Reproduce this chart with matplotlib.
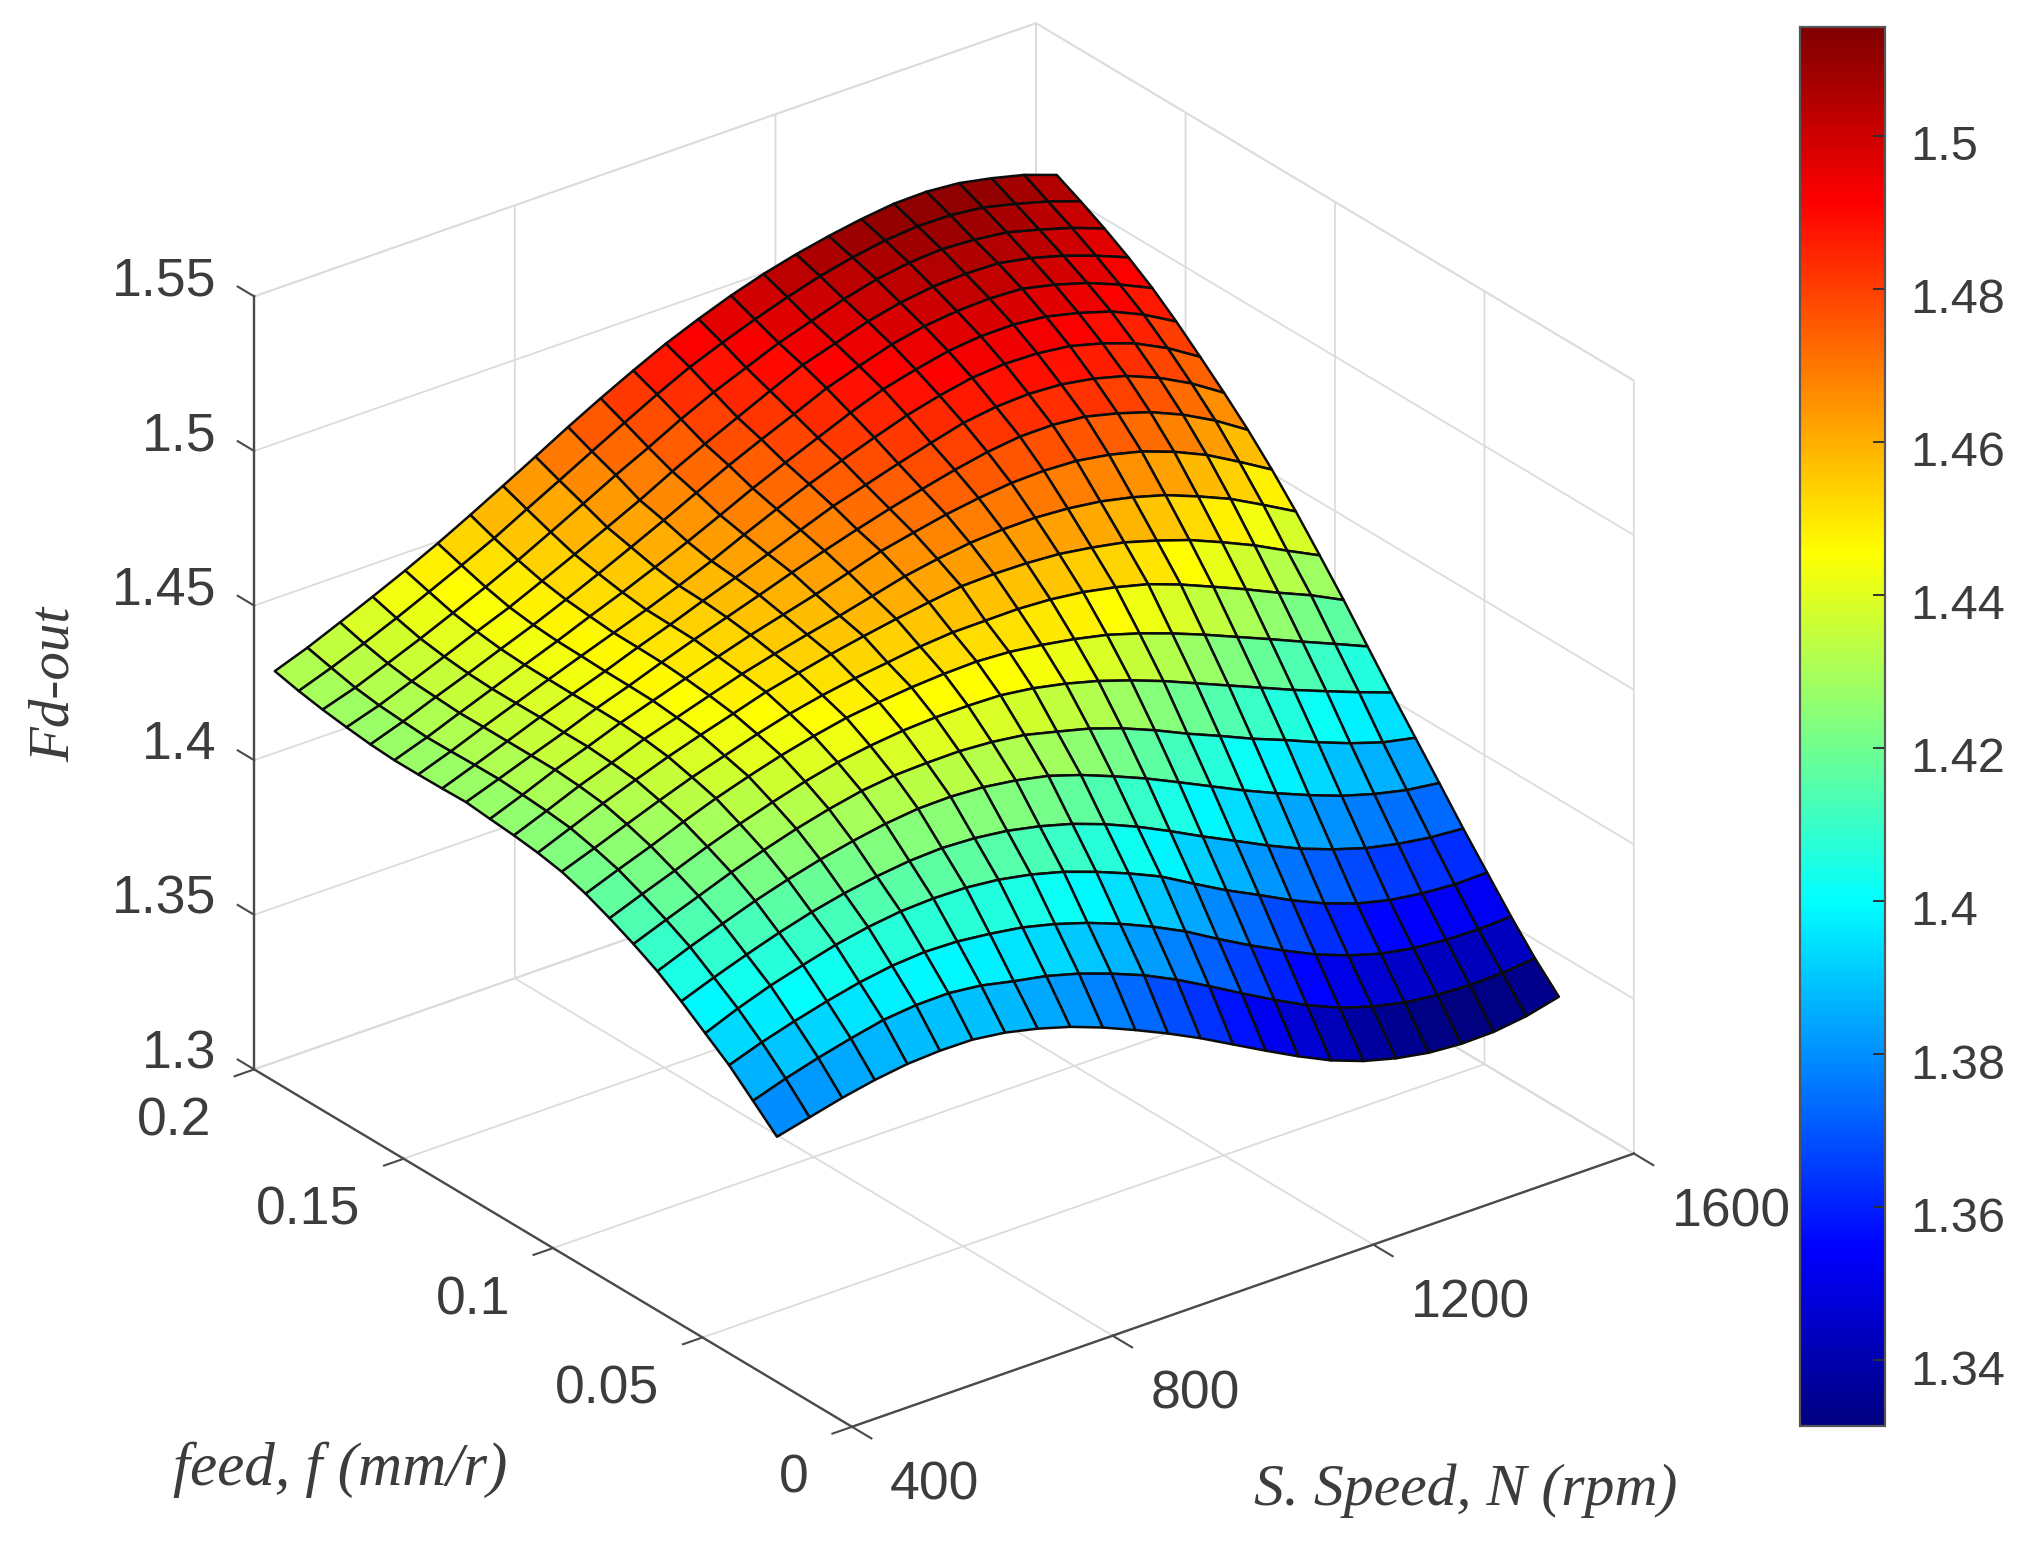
import matplotlib

matplotlib.use("Agg")
import matplotlib.pyplot as plt
import numpy as np
from matplotlib.cm import ScalarMappable
from matplotlib.colors import LinearSegmentedColormap, Normalize
from matplotlib.ticker import NullFormatter
from matplotlib.transforms import ScaledTranslation
from mpl_toolkits.mplot3d import proj3d

plt.rcParams["font.family"] = ["Liberation Sans", "DejaVu Sans"]

speed = [400, 450, 500, 550, 600, 650, 700, 750, 800, 850, 900, 950, 1000,
         1050, 1100, 1150, 1200, 1250, 1300, 1350, 1400, 1450, 1500, 1550, 1600]
feed = [0.0251, 0.0331, 0.0411, 0.0491, 0.0571, 0.0651, 0.0731, 0.0811, 0.0891, 0.0971, 0.1051,
        0.1131, 0.1211, 0.1291, 0.1371, 0.1451, 0.1531, 0.1611, 0.1691, 0.1771, 0.1851, 0.1931]

# one row per feed value, one column per speed value
fd_out = [
    [1.3793, 1.3819, 1.3845, 1.3866, 1.3881, 1.3887, 1.3886, 1.3872, 1.3848, 1.3817, 1.3778, 1.3733, 1.3685, 1.3633, 1.3576, 1.3519, 1.3464, 1.3414, 1.3375, 1.3347, 1.3328, 1.3320, 1.3322, 1.3336, 1.3362],
    [1.3863, 1.3898, 1.3928, 1.3954, 1.3977, 1.3988, 1.3990, 1.3978, 1.3955, 1.3935, 1.3906, 1.3869, 1.3827, 1.3776, 1.3718, 1.3658, 1.3600, 1.3546, 1.3501, 1.3468, 1.3444, 1.3432, 1.3427, 1.3429, 1.3440],
    [1.3932, 1.3969, 1.4000, 1.4028, 1.4052, 1.4069, 1.4077, 1.4074, 1.4062, 1.4046, 1.4020, 1.3987, 1.3947, 1.3901, 1.3849, 1.3788, 1.3730, 1.3677, 1.3627, 1.3587, 1.3556, 1.3537, 1.3527, 1.3524, 1.3529],
    [1.3989, 1.4032, 1.4069, 1.4099, 1.4127, 1.4148, 1.4162, 1.4167, 1.4165, 1.4154, 1.4134, 1.4106, 1.4069, 1.4027, 1.3980, 1.3920, 1.3862, 1.3810, 1.3756, 1.3709, 1.3672, 1.3646, 1.3631, 1.3623, 1.3625],
    [1.4046, 1.4086, 1.4123, 1.4157, 1.4187, 1.4211, 1.4229, 1.4242, 1.4247, 1.4242, 1.4229, 1.4207, 1.4178, 1.4140, 1.4095, 1.4044, 1.3990, 1.3939, 1.3887, 1.3840, 1.3801, 1.3768, 1.3745, 1.3729, 1.3721],
    [1.4097, 1.4139, 1.4177, 1.4214, 1.4246, 1.4274, 1.4297, 1.4316, 1.4328, 1.4330, 1.4324, 1.4309, 1.4287, 1.4253, 1.4212, 1.4168, 1.4119, 1.4069, 1.4019, 1.3973, 1.3930, 1.3891, 1.3860, 1.3836, 1.3822],
    [1.4139, 1.4180, 1.4220, 1.4260, 1.4295, 1.4327, 1.4354, 1.4376, 1.4389, 1.4393, 1.4394, 1.4387, 1.4373, 1.4347, 1.4320, 1.4284, 1.4241, 1.4193, 1.4149, 1.4103, 1.4062, 1.4018, 1.3978, 1.3944, 1.3922],
    [1.4176, 1.4217, 1.4256, 1.4297, 1.4334, 1.4367, 1.4397, 1.4422, 1.4439, 1.4451, 1.4457, 1.4458, 1.4455, 1.4441, 1.4419, 1.4391, 1.4356, 1.4317, 1.4273, 1.4229, 1.4185, 1.4141, 1.4100, 1.4060, 1.4022],
    [1.4209, 1.4250, 1.4289, 1.4331, 1.4370, 1.4404, 1.4435, 1.4461, 1.4483, 1.4497, 1.4508, 1.4515, 1.4518, 1.4512, 1.4498, 1.4480, 1.4457, 1.4425, 1.4388, 1.4347, 1.4303, 1.4259, 1.4214, 1.4170, 1.4125],
    [1.4234, 1.4273, 1.4314, 1.4354, 1.4392, 1.4425, 1.4458, 1.4487, 1.4510, 1.4528, 1.4542, 1.4557, 1.4566, 1.4567, 1.4568, 1.4562, 1.4549, 1.4528, 1.4501, 1.4463, 1.4419, 1.4374, 1.4326, 1.4281, 1.4229],
    [1.4249, 1.4292, 1.4335, 1.4374, 1.4412, 1.4446, 1.4478, 1.4511, 1.4536, 1.4560, 1.4581, 1.4600, 1.4617, 1.4632, 1.4635, 1.4633, 1.4626, 1.4610, 1.4590, 1.4559, 1.4524, 1.4480, 1.4433, 1.4379, 1.4327],
    [1.4259, 1.4301, 1.4345, 1.4383, 1.4423, 1.4456, 1.4490, 1.4523, 1.4551, 1.4577, 1.4601, 1.4628, 1.4655, 1.4674, 1.4689, 1.4696, 1.4697, 1.4690, 1.4676, 1.4653, 1.4623, 1.4582, 1.4537, 1.4481, 1.4423],
    [1.4266, 1.4307, 1.4351, 1.4389, 1.4429, 1.4464, 1.4499, 1.4533, 1.4566, 1.4595, 1.4624, 1.4657, 1.4690, 1.4713, 1.4735, 1.4751, 1.4763, 1.4766, 1.4761, 1.4744, 1.4718, 1.4680, 1.4633, 1.4574, 1.4512],
    [1.4274, 1.4312, 1.4351, 1.4389, 1.4430, 1.4466, 1.4505, 1.4542, 1.4577, 1.4612, 1.4648, 1.4682, 1.4714, 1.4744, 1.4771, 1.4796, 1.4817, 1.4830, 1.4831, 1.4821, 1.4795, 1.4762, 1.4717, 1.4661, 1.4594],
    [1.4272, 1.4311, 1.4351, 1.4392, 1.4430, 1.4467, 1.4507, 1.4544, 1.4584, 1.4622, 1.4662, 1.4703, 1.4743, 1.4775, 1.4807, 1.4837, 1.4865, 1.4880, 1.4885, 1.4879, 1.4861, 1.4833, 1.4790, 1.4735, 1.4668],
    [1.4271, 1.4309, 1.4351, 1.4391, 1.4431, 1.4470, 1.4508, 1.4546, 1.4587, 1.4630, 1.4678, 1.4724, 1.4768, 1.4808, 1.4845, 1.4880, 1.4907, 1.4928, 1.4936, 1.4933, 1.4920, 1.4892, 1.4855, 1.4803, 1.4738],
    [1.4271, 1.4308, 1.4350, 1.4391, 1.4432, 1.4472, 1.4515, 1.4556, 1.4600, 1.4646, 1.4695, 1.4745, 1.4791, 1.4835, 1.4879, 1.4918, 1.4945, 1.4968, 1.4979, 1.4980, 1.4969, 1.4944, 1.4912, 1.4865, 1.4806],
    [1.4276, 1.4313, 1.4355, 1.4395, 1.4437, 1.4478, 1.4523, 1.4570, 1.4619, 1.4669, 1.4721, 1.4773, 1.4820, 1.4865, 1.4912, 1.4947, 1.4980, 1.5002, 1.5014, 1.5018, 1.5013, 1.4989, 1.4958, 1.4916, 1.4868],
    [1.4285, 1.4319, 1.4360, 1.4403, 1.4447, 1.4489, 1.4537, 1.4586, 1.4637, 1.4688, 1.4744, 1.4796, 1.4845, 1.4894, 1.4941, 1.4974, 1.5008, 1.5032, 1.5047, 1.5052, 1.5049, 1.5029, 1.5000, 1.4963, 1.4921],
    [1.4296, 1.4330, 1.4372, 1.4415, 1.4461, 1.4508, 1.4558, 1.4612, 1.4667, 1.4723, 1.4775, 1.4830, 1.4880, 1.4923, 1.4966, 1.5000, 1.5034, 1.5061, 1.5078, 1.5085, 1.5079, 1.5066, 1.5038, 1.5007, 1.4968],
    [1.4310, 1.4348, 1.4390, 1.4435, 1.4483, 1.4532, 1.4583, 1.4640, 1.4696, 1.4753, 1.4809, 1.4864, 1.4915, 1.4957, 1.4996, 1.5031, 1.5062, 1.5086, 1.5104, 1.5113, 1.5112, 1.5100, 1.5075, 1.5046, 1.5010],
    [1.4328, 1.4367, 1.4412, 1.4458, 1.4506, 1.4557, 1.4612, 1.4669, 1.4727, 1.4786, 1.4842, 1.4895, 1.4945, 1.4988, 1.5027, 1.5060, 1.5087, 1.5109, 1.5127, 1.5140, 1.5142, 1.5133, 1.5112, 1.5086, 1.5049],
]

speed_ticks = [400, 800, 1200, 1600]
feed_ticks = [0, 0.05, 0.1, 0.15, 0.2]
fd_ticks = [1.3, 1.35, 1.4, 1.45, 1.5, 1.55]
bar_ticks = [1.34, 1.36, 1.38, 1.4, 1.42, 1.44, 1.46, 1.48, 1.5]
bar_limits = [1.3314, 1.5142]

TEXT = "#3c3c3c"
AXIS = "#4a4a4a"
GRID = "#dcdcdc"
W, H = 2030, 1545

# matlab's jet has its stops in other places than matplotlib's
matlab_jet = LinearSegmentedColormap.from_list(
    "matlab_jet",
    [(0, (0, 0, 0.5)), (0.125, (0, 0, 1)), (0.375, (0, 1, 1)), (0.625, (1, 1, 0)), (0.875, (1, 0, 0)), (1, (0.5, 0, 0))],
    N=256,
)
norm = Normalize(*bar_limits)

fig = plt.figure(figsize=(W / 100, H / 100), dpi=100, facecolor="white")
ax = fig.add_axes([126 / W, 2 / H, 1593 / W, 1593 / H], projection="3d", proj_type="ortho")
ax.patch.set_alpha(0)
ax.view_init(elev=27.2, azim=-127.4)
ax.set_box_aspect((1, 1, 0.883), zoom=1.0)

X, Y = np.meshgrid(speed, feed)
Z = np.array(fd_out)
# facecolors: each cell takes the colour of its first corner, like flat shading in matlab
ax.plot_surface(X, Y, Z, facecolors=matlab_jet(norm(Z)), rstride=1, cstride=1,
                edgecolor="#0c0c0c", linewidth=1.8, shade=False, antialiased=True)

ax.set_xticks(speed_ticks)
ax.set_yticks(feed_ticks)
ax.set_zticks(fd_ticks)
for axis in (ax.xaxis, ax.yaxis, ax.zaxis):
    axis.set_major_formatter(NullFormatter())
    axis.set_pane_color((1, 1, 1, 1))
    axis.pane.set_edgecolor(GRID)
    axis.pane.set_linewidth(1.3)
    axis.line.set_color(AXIS)
    axis.line.set_linewidth(1.7)
    axis._axinfo["grid"].update(color=GRID, linewidth=1.3)
    axis._axinfo["tick"].update(inward_factor=0.0, outward_factor=0.0)
ax.grid(True)

# short outward ticks, matlab style
for v in speed_ticks:
    ax.plot([v, v], [0, -0.0065], [1.3, 1.3], color=AXIS, lw=1.5)
for v in feed_ticks:
    ax.plot([400, 370], [v, v], [1.3, 1.3], color=AXIS, lw=1.5)
for v in fd_ticks:
    ax.plot([400, 400], [0.2, 0.2055], [v, v], color=AXIS, lw=1.5)
ax.set_xlim(400, 1600, view_margin=0)
ax.set_ylim(0, 0.2, view_margin=0)
ax.set_zlim(1.3, 1.55, view_margin=0)

# tick labels are placed from the projected tick position
proj = ax.get_proj()


def tick_label(text, x, y, z, dx, dy, ha):
    px, py, _ = proj3d.proj_transform(x, y, z, proj)
    ax.annotate(text, xy=(px, py), xycoords="data", xytext=(dx, dy), textcoords="offset pixels",
                ha=ha, va="center", fontsize=38.5, color=TEXT, annotation_clip=False)


for v in speed_ticks:
    tick_label(f"{v}", v, 0, 1.3, 38, -59, "left")
for v in feed_ticks:
    tick_label(f"{v:g}", 400, v, 1.3, -43, -52, "right")
for v in fd_ticks:
    tick_label(f"{v:g}", 400, 0.2, v, -38, 15, "right")

serif = {"family": "Liberation Serif", "style": "italic", "color": TEXT}
fig.text(340 / W, 1 - 1470 / H, "feed, f (mm/r)", ha="center", va="center", fontsize=44, **serif)
fig.text(1466 / W, 1 - 1491 / H, "S. Speed, N (rpm)", ha="center", va="center", fontsize=43, **serif)
fig.text(55 / W, 1 - 684 / H, "Fd-out", ha="center", va="center", rotation=90, fontsize=41, **serif)

cax = fig.add_axes([1800 / W, 1 - 1426 / H, 85 / W, 1399 / H])
cbar = fig.colorbar(ScalarMappable(norm=norm, cmap=matlab_jet), cax=cax)
cbar.set_ticks(bar_ticks, labels=[f"{v:g}" for v in bar_ticks])
cbar.ax.tick_params(direction="in", length=9, width=1.4, color="#303030", labelsize=35, labelcolor=TEXT, pad=18)
cbar.outline.set_edgecolor("#555555")
cbar.outline.set_linewidth(1.6)
# the labels sit a little below their ticks in the original
shift = ScaledTranslation(0, -7 / 100, fig.dpi_scale_trans)
for tick in cax.yaxis.get_major_ticks():
    tick.label2.set_transform(tick.label2.get_transform() + shift)

fig.savefig("out.png", dpi=100, facecolor="white")
